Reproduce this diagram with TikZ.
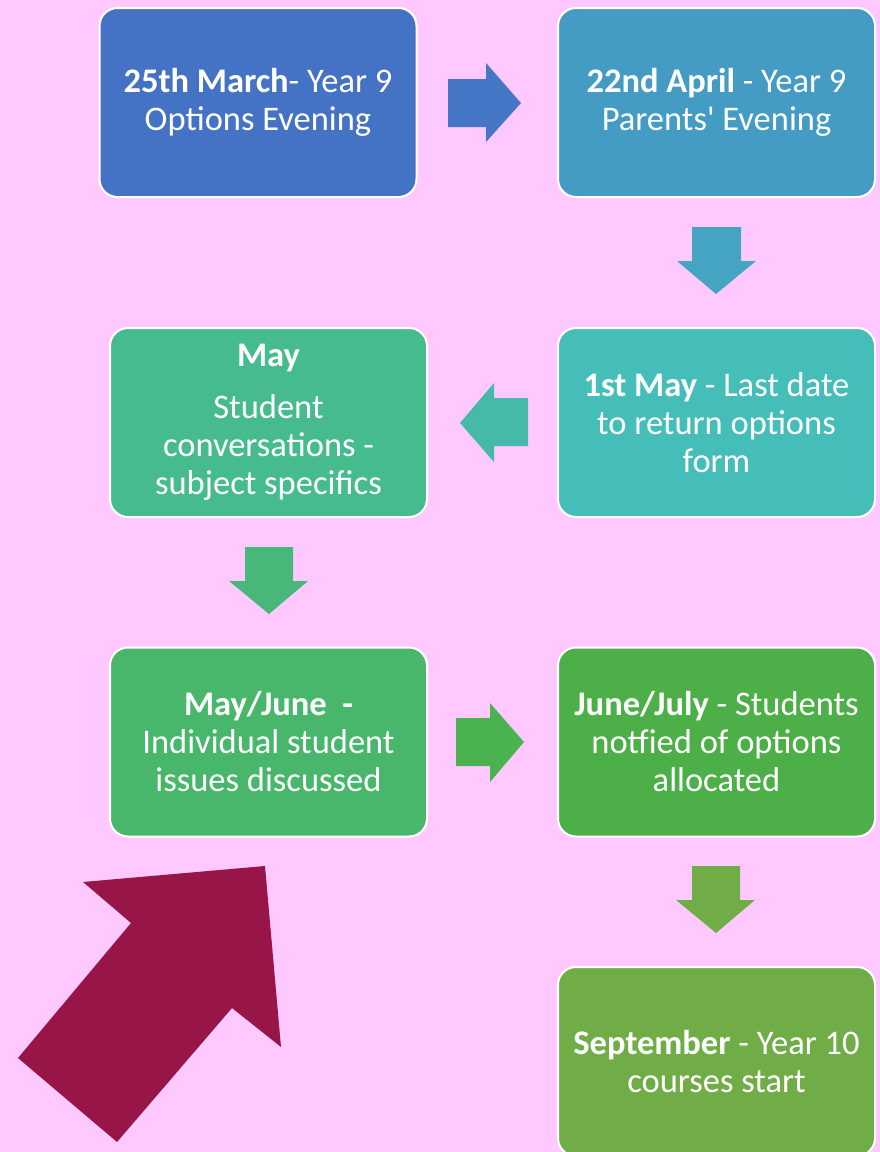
\documentclass[tikz,border=0pt]{standalone}
\usepackage{fontspec}
\setmainfont{Carlito}
\newcommand{\sq}{{\XeTeXglyph\XeTeXcharglyph"0027\relax}}
\definecolor{bg}{HTML}{FFC9FF}
\definecolor{cA}{HTML}{4472C4}
\definecolor{cB}{HTML}{449BC3}
\definecolor{cC}{HTML}{45BDB9}
\definecolor{cD}{HTML}{46BC8E}
\definecolor{cE}{HTML}{48B76B}
\definecolor{cF}{HTML}{4DAF48}
\definecolor{cG}{HTML}{70AD47}
\definecolor{aA}{HTML}{4577C6}
\definecolor{aB}{HTML}{45A4C2}
\definecolor{aC}{HTML}{46BAA9}
\definecolor{aD}{HTML}{48B87A}
\definecolor{aE}{HTML}{4AB24F}
\definecolor{aF}{HTML}{70AD47}
\definecolor{maroon}{HTML}{981548}
\begin{document}
\begin{tikzpicture}[x=1pt,y=-1pt,
  box/.style={draw=white, line width=2pt, rounded corners=18pt,
    minimum width=317pt, minimum height=189pt, text=white, align=center,
    font=\fontsize{34.5}{38}\selectfont, inner sep=0pt}]
\fill[bg] (0,0) rectangle (880,1152);
\useasboundingbox (0,0) rectangle (880,1152);
% boxes
\node[box, fill=cA] (b1) at (258,102.5) {\textbf{25th March}- Year 9\\Options Evening};
\node[box, fill=cB] (b2) at (716.5,102.5) {\textbf{22nd April} - Year 9\\Parents\sq\ Evening};
\node[box, fill=cC] (b3) at (716.5,422.5) {\textbf{1st May} - Last date\\to return options\\form};
\node[box, fill=cD] (b4) at (268.5,422.5) {\textbf{May}\\[14pt]Student\\conversations -\\subject specifics};
\node[box, fill=cE] (b5) at (268.5,742) {\textbf{May/June\ \ -}\\Individual student\\issues discussed};
\node[box, fill=cF] (b6) at (716.5,742) {\textbf{June/July} - Students\\notfied of options\\allocated};
\node[box, fill=cG] (b7) at (716.5,1061.5) {\textbf{September} - Year 10\\courses start};
% block arrows
\fill[aA] (448,79) -- (486,79) -- (486,63) -- (521,103) -- (486,142) -- (486,127) -- (448,127) -- cycle;
\fill[aB] (692,227) -- (741,227) -- (741,261) -- (756,261) -- (716,294) -- (677,261) -- (692,261) -- cycle;
\fill[aC] (528,398) -- (494,398) -- (494,383) -- (460,423) -- (494,462) -- (494,446) -- (528,446) -- cycle;
\fill[aD] (245,547) -- (293,547) -- (293,581) -- (308,581) -- (269,614) -- (229,581) -- (245,581) -- cycle;
\fill[aE] (456,718) -- (490,718) -- (490,703) -- (524,742) -- (490,782) -- (490,766) -- (456,766) -- cycle;
\fill[aF] (692,866) -- (740,866) -- (740,900) -- (755,900) -- (716,933) -- (676,900) -- (692,900) -- cycle;
% large maroon arrow
\fill[maroon] (83,882) -- (265,866) -- (281,1047) -- (232,1008) -- (117,1142) -- (18,1058) -- (131,923) -- cycle;
\end{tikzpicture}
\end{document}
